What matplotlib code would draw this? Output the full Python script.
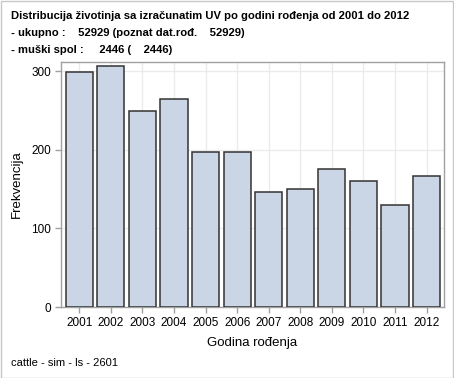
import matplotlib
matplotlib.use("Agg")
import matplotlib.pyplot as plt
from matplotlib.patches import Rectangle

# ---------- data ----------
years = ["2001", "2002", "2003", "2004", "2005", "2006",
         "2007", "2008", "2009", "2010", "2011", "2012"]
counts = [299, 307, 250, 265, 198, 198, 146, 150, 176, 160, 130, 167]
y_ticks = [0, 100, 200, 300]

title_lines = [
    "Distribucija životinja sa izračunatim UV po godini rođenja od 2001 do 2012",
    "- ukupno :    52929 (poznat dat.rođ.    52929)",
    "- muški spol :     2446 (    2446)",
]
footer = "cattle - sim - ls - 2601"

plt.rcParams["font.family"] = ["Liberation Sans", "DejaVu Sans"]

W, H = 454, 378
fig = plt.figure(figsize=(W / 100, H / 100), dpi=100)
fig.patch.set_facecolor("white")

# light grey border around the whole graph
fig.patches.append(Rectangle((0.5 / W, 0.5 / H), 1 - 1.5 / W, 1 - 1.5 / H,
                             transform=fig.transFigure, fill=False,
                             edgecolor="#c8c8c8", linewidth=1.0))

ax = fig.add_axes([61 / W, 1 - 307 / H, (444 - 61) / W, (307 - 62) / H])

x = list(range(len(years)))
ax.bar(x, counts, width=0.86, color="#cad5e5", edgecolor="#333333",
       linewidth=1.1, zorder=3)

ax.set_xlim(-0.58, 11.55)
ax.set_ylim(0, 312)
ax.set_xticks(x)
ax.set_xticklabels(years)
ax.set_yticks(y_ticks)

ax.grid(True, color="#ebebeb", linewidth=1.0, zorder=0)
for s in ax.spines.values():
    s.set_color("#a0a0a0")
    s.set_linewidth(1.0)
ax.tick_params(axis="both", colors="#a0a0a0", labelcolor="black",
               labelsize=8.5, length=4, width=1.0, direction="out", pad=3)

ax.set_xlabel("Godina rođenja", fontsize=9.5, labelpad=6)
ax.set_ylabel("Frekvencija", fontsize=9.5, labelpad=6)

for i, line in enumerate(title_lines):
    fig.text(11 / W, 1 - (16 + 17 * i) / H, line, fontsize=8.1,
             fontweight="bold", ha="left", va="center")

fig.text(11 / W, 1 - 363 / H, footer, fontsize=8, ha="left", va="center")

fig.savefig("out.png", dpi=100)
